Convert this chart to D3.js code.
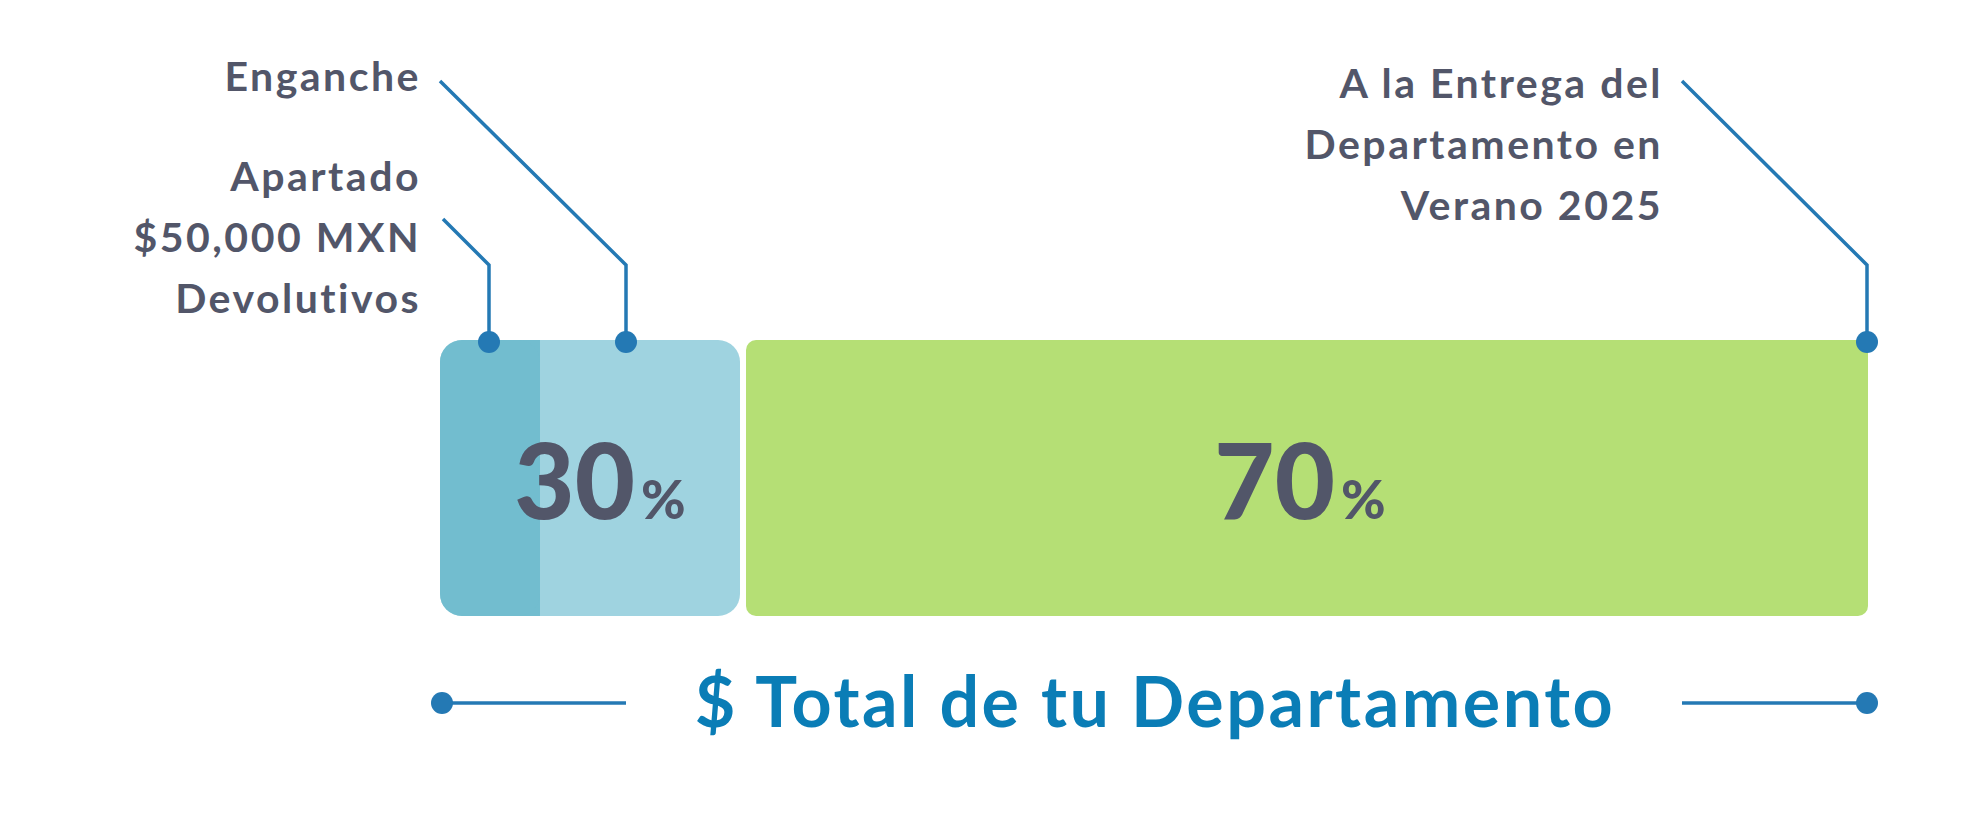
<!DOCTYPE html>
<html><head><meta charset="utf-8">
<script src="https://cdn.jsdelivr.net/npm/d3@7"></script>
<style>body{margin:0;background:#fff}svg{display:block}text{font-family:Lato,"Open Sans",sans-serif;font-weight:700}</style>
</head><body><svg id="c" width="1962" height="817"></svg>
<script>
const segments = ["Enganche", "A la Entrega del Departamento"];
const values = [30, 70];
const apartadoValue = 10;
const percentLabels = ["30", "70"];
const leftLabelsEnganche = ["Enganche"];
const leftLabelsApartado = ["Apartado", "$50,000 MXN", "Devolutivos"];
const rightLabels = ["A la Entrega del", "Departamento en", "Verano 2025"];
const title = "$ Total de tu Departamento";

const svg = d3.select("#c");
const x = d3.scaleLinear().domain([0, 30, 100]).range([440, 740, 1868]);
const y0 = 340, y1 = 616, gap = 6;
const textCol = "#525669", lineCol = "#2479b4";

// light blue 30% and green 70%
const starts = [0, 30];
svg.append("rect").attr("x", x(0)).attr("y", y0).attr("width", x(values[0]) - x(0)).attr("height", y1 - y0).attr("rx", 22).attr("fill", "#9fd3e0");
svg.append("rect").attr("x", x(apartadoValue) - 40).attr("y", y0).attr("width", 40).attr("height", y1 - y0).attr("fill", "#72bdcf").attr("clip-path", null);
svg.append("rect").attr("x", x(0)).attr("y", y0).attr("width", x(apartadoValue) - x(0)).attr("height", y1 - y0).attr("rx", 22).attr("fill", "#72bdcf");
svg.append("rect").attr("x", x(starts[1]) + gap).attr("y", y0).attr("width", x(100) - x(starts[1]) - gap).attr("height", y1 - y0).attr("rx", 10).attr("fill", "#b5df75");

// percent labels
const centers = [x(values[0] / 2) + 10, x(starts[1] + values[1] / 2) - 4];
percentLabels.forEach((p, i) => {
  const t = svg.append("text").attr("x", centers[i]).attr("y", 519).attr("text-anchor", "middle").attr("fill", textCol);
  t.append("tspan").attr("font-size", 104).attr("font-weight", 900).text(p);
  t.append("tspan").attr("font-size", 54).attr("dx", 6).attr("font-weight", 900).text("%");
});

// leaders
const dotY = 342;
function leader(x0, yTop, xDot) {
  svg.append("path").attr("d", `M${x0},${yTop} L${xDot},${265} L${xDot},${dotY}`).attr("fill", "none").attr("stroke", lineCol).attr("stroke-width", 3.5);
  svg.append("circle").attr("cx", xDot).attr("cy", dotY).attr("r", 11).attr("fill", lineCol);
}
leader(443, 219, 489);
leader(440, 81, 626);
leader(1682, 81, 1867);

function lines(arr, xr, yStart, step) {
  arr.forEach((s, i) => svg.append("text").attr("x", xr).attr("y", yStart + i * step).attr("text-anchor", "end")
    .attr("font-size", 41).attr("letter-spacing", 2.5).attr("fill", textCol).text(s));
}
lines(leftLabelsEnganche, 421, 91, 61);
lines(leftLabelsApartado, 421, 191, 61);
lines(rightLabels, 1663, 98, 61);

// bottom total line
const by = 703;
svg.append("line").attr("x1", x(0) + 2).attr("x2", 626).attr("y1", by).attr("y2", by).attr("stroke", lineCol).attr("stroke-width", 3.5);
svg.append("line").attr("x1", 1682).attr("x2", x(100)).attr("y1", by).attr("y2", by).attr("stroke", lineCol).attr("stroke-width", 3.5);
svg.append("circle").attr("cx", x(0) + 2).attr("cy", by).attr("r", 11).attr("fill", lineCol);
svg.append("circle").attr("cx", x(100) - 1).attr("cy", by).attr("r", 11).attr("fill", lineCol);
svg.append("text").attr("x", (646 + 1664) / 2).attr("y", 727).attr("text-anchor", "middle").attr("font-size", 70)
  .attr("letter-spacing", 2.5).attr("fill", "#0a7db6").text(title);
</script></body></html>
